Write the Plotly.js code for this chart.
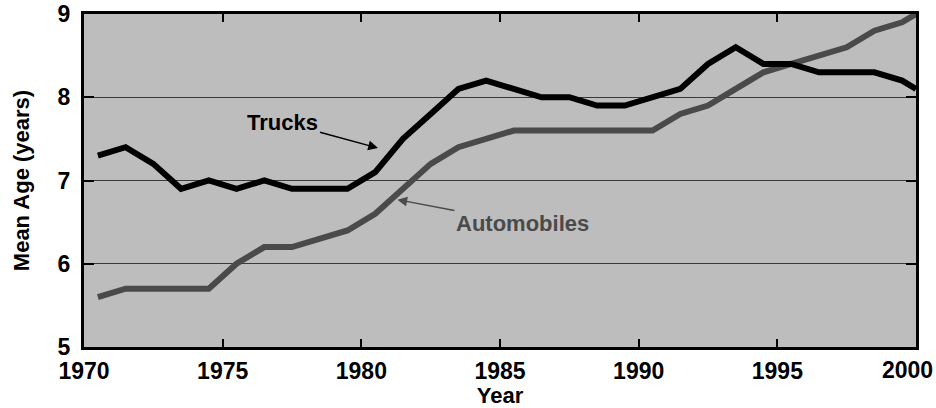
<!DOCTYPE html>
<html>
<head>
<meta charset="utf-8">
<script src="https://cdn.plot.ly/plotly-3.0.1.min.js"></script>
<style>html,body{margin:0;padding:0;background:#fff;}#chart{width:936px;height:408px;}</style>
</head>
<body>
<div id="chart"></div>
<script>
// Data
const years = [1970.5, 1971.5, 1972.5, 1973.5, 1974.5, 1975.5, 1976.5, 1977.5, 1978.5, 1979.5,
               1980.5, 1981.5, 1982.5, 1983.5, 1984.5, 1985.5, 1986.5, 1987.5, 1988.5, 1989.5,
               1990.5, 1991.5, 1992.5, 1993.5, 1994.5, 1995.5, 1996.5, 1997.5, 1998.5, 1999.5, 2000];
const trucks = [7.3, 7.4, 7.2, 6.9, 7.0, 6.9, 7.0, 6.9, 6.9, 6.9,
                7.1, 7.5, 7.8, 8.1, 8.2, 8.1, 8.0, 8.0, 7.9, 7.9,
                8.0, 8.1, 8.4, 8.6, 8.4, 8.4, 8.3, 8.3, 8.3, 8.2, 8.1];
const automobiles = [5.6, 5.7, 5.7, 5.7, 5.7, 6.0, 6.2, 6.2, 6.3, 6.4,
                     6.6, 6.9, 7.2, 7.4, 7.5, 7.6, 7.6, 7.6, 7.6, 7.6,
                     7.6, 7.8, 7.9, 8.1, 8.3, 8.4, 8.5, 8.6, 8.8, 8.9, 9.0];
const xTicks = [1970, 1975, 1980, 1985, 1990, 1995, 2000];
const xTickLabels = ["1970", "1975", "1980", "1985", "1990", "1995", "2000"];
const yTicks = [5, 6, 7, 8, 9];
const seriesNames = ["Trucks", "Automobiles"];
const truckLabelTip = [1980.6, 7.39];
const autoLabelTip = [1981.3, 6.77];

const FONT = "Liberation Sans, Arial, Helvetica, sans-serif";
const lastIdx = xTickLabels.length - 1;
// the last tick label is right-aligned to the page edge (as in the reference), drawn as an annotation
const xTickText = xTickLabels.map((t, i) => i === lastIdx ? "" : t);

const traces = [
  {x: years, y: automobiles, name: seriesNames[1], mode: "lines",
   line: {color: "#4a4a4a", width: 6}},
  {x: years, y: trucks, name: seriesNames[0], mode: "lines",
   line: {color: "#000000", width: 6}}
];

const layout = {
  width: 936, height: 408,
  margin: {l: 84, r: 20, t: 14, b: 61},
  paper_bgcolor: "#ffffff",
  plot_bgcolor: "#bdbdbd",
  showlegend: false,
  font: {family: FONT, color: "#000", size: 22},
  xaxis: {
    range: [1970, 2000], tickvals: xTicks, ticktext: xTickText,
    ticks: "inside", ticklen: 8, tickwidth: 2, tickcolor: "#000",
    showline: true, linecolor: "#000", linewidth: 3, mirror: "ticks",
    showgrid: false, zeroline: false,
    tickfont: {family: FONT, size: 23, color: "#000", weight: "bold"},
    ticklabelstandoff: 1, ticklabeloverflow: "allow",
    title: {text: "<b>Year</b>", font: {family: FONT, size: 22, color: "#000"}, standoff: 2},
    automargin: false
  },
  yaxis: {
    range: [5, 9], tickvals: yTicks, ticktext: yTicks.map(String),
    ticks: "inside", ticklen: 10, tickwidth: 2, tickcolor: "#000",
    showline: true, linecolor: "#000", linewidth: 3, mirror: "ticks",
    showgrid: true, gridcolor: "#3a3a3a", gridwidth: 1, zeroline: false,
    tickfont: {family: FONT, size: 23, color: "#000", weight: "bold"},
    ticklabelstandoff: 6, ticklabeloverflow: "allow",
    title: {text: "<b>Mean Age (years)</b>", font: {family: FONT, size: 22, color: "#000"}, standoff: 22},
    automargin: false
  },
  annotations: [
    {x: truckLabelTip[0], y: truckLabelTip[1], xref: "x", yref: "y",
     text: "<b>" + seriesNames[0] + "</b>", showarrow: true,
     ax: -95, ay: -26, arrowhead: 2, arrowsize: 1.3, arrowwidth: 1.5, arrowcolor: "#000",
     font: {family: FONT, size: 22, color: "#000"}},
    {x: autoLabelTip[0], y: autoLabelTip[1], xref: "x", yref: "y",
     text: "<b>" + seriesNames[1] + "</b>", showarrow: true,
     ax: 125, ay: 24, arrowhead: 2, arrowsize: 1.3, arrowwidth: 1.5, arrowcolor: "#4a4a4a",
     font: {family: FONT, size: 22, color: "#4a4a4a"}},
    {x: xTicks[lastIdx], y: 0, xref: "x", yref: "paper",
     text: "<b>" + xTickLabels[lastIdx] + "</b>", showarrow: false,
     xanchor: "right", yanchor: "top", xshift: 19, yshift: -8,
     font: {family: FONT, size: 23, color: "#000"}}
  ]
};

Plotly.newPlot("chart", traces, layout, {displayModeBar: false, staticPlot: true});
</script>
</body>
</html>
